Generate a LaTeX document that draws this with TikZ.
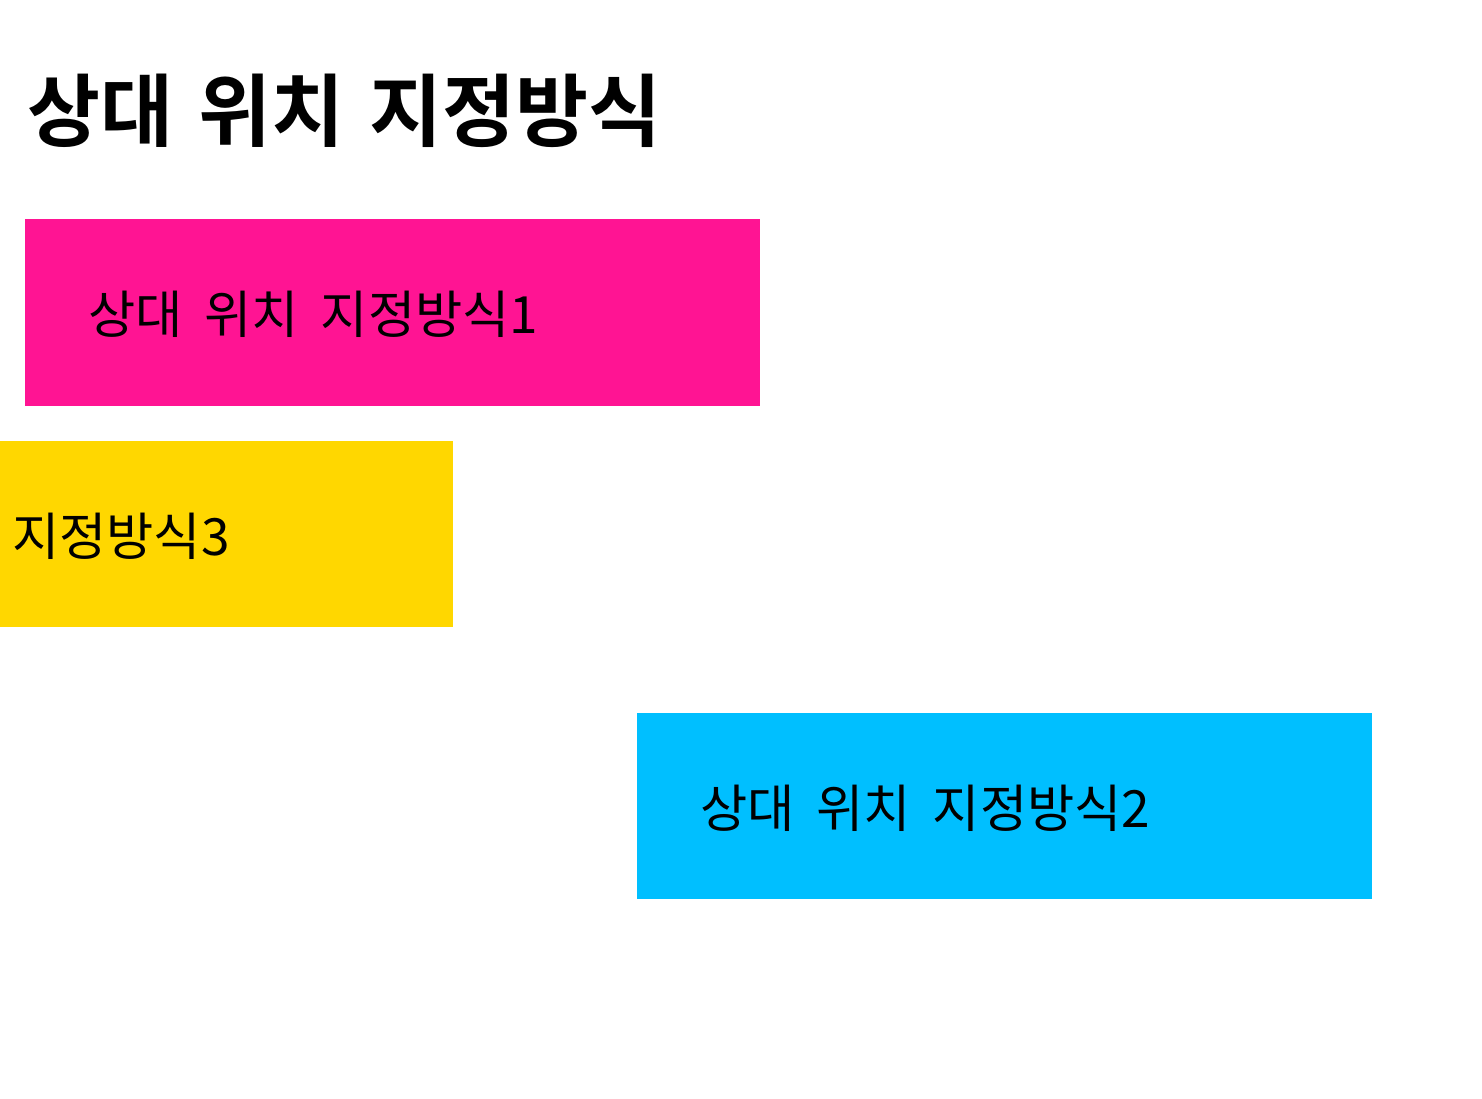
\documentclass[tikz,border=0pt]{standalone}
\usepackage{fontspec}
\setmainfont[WordSpace=1.9]{Noto Sans CJK KR}
\newfontfamily\krbold[WordSpace=1.4]{Noto Sans CJK KR Bold}
\usepackage{tikz}
\usetikzlibrary{positioning}
\usepackage{xcolor}
\definecolor{box1}{RGB}{255,20,147}
\definecolor{box2}{RGB}{0,191,255}
\definecolor{box3}{RGB}{255,215,0}

\begin{document}
\begin{tikzpicture}[x=0.75pt,y=-0.75pt,
  slab/.style={rectangle,inner sep=0pt,outer sep=0pt,anchor=north west,minimum width=551.25pt,minimum height=140.25pt},
  label/.style={anchor=base west,inner sep=0pt,font=\fontsize{38.5}{40}\selectfont}]
\useasboundingbox[fill=white] (0,0) rectangle (1482,1099);
% title
\node[anchor=base west,inner sep=0pt,font=\krbold\fontsize{59.5}{66}\selectfont] (title) at (27,140) {상대 위치 지정방식};

% box 1
\node[slab,fill=box1] (first) at (25,219) {};
\node[label] (firsttxt) at (88,333) {상대 위치 지정방식1};

% box 3
\node[slab,fill=box3,minimum width=339.75pt,minimum height=139.5pt] (third) at (0,441) {};
\node[label] (thirdtxt) at (12,555) {지정방식3};

% box 2
\node[slab,fill=box2,minimum height=139.5pt] (second) at (637,713) {};
\node[label] (secondtxt) at (700,827) {상대 위치 지정방식2};
\end{tikzpicture}
\end{document}
